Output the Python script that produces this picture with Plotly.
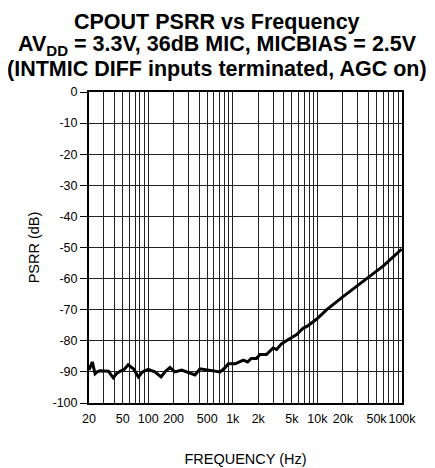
import numpy as np
import plotly.graph_objects as go

# CPOUT PSRR vs frequency
freq = [20, 21.9, 23.6, 25, 27, 30, 34, 38.7, 42, 46.5, 52, 58, 67, 76.6, 86,
        100, 120, 142, 160, 181, 208, 249, 286, 358, 410, 492, 600, 707, 800,
        887, 1065, 1277, 1333, 1500, 1650, 1900, 2100, 2500, 3000, 3300, 3790,
        4540, 5700, 6830, 7600, 9830, 12900, 20300, 34900, 60200, 99300]
psrr = [-89.4, -86.8, -90.6, -90.0, -89.6, -89.6, -89.8, -91.9, -90.6, -89.8,
        -89.2, -87.7, -89.0, -91.6, -90.0, -89.2, -90.0, -91.6, -89.8, -88.6,
        -90.0, -89.4, -90.0, -91.0, -89.0, -89.4, -89.6, -90.0, -88.8, -87.4,
        -87.4, -86.3, -86.2, -86.8, -85.7, -85.7, -84.4, -84.4, -82.3, -82.8,
        -80.9, -79.6, -78.0, -75.9, -75.3, -73.0, -70.0, -65.7, -60.9, -55.9,
        -50.5]

# grid positions: every integer multiple per decade, only some labelled
x_labels = {20: '20', 50: '50', 100: '100', 200: '200', 500: '500',
            1000: '1k', 2000: '2k', 5000: '5k', 10000: '10k', 20000: '20k',
            50000: '50k', 100000: '100k'}
x_grid = [m * 10 ** d for d in range(1, 5) for m in range(1, 10)] + [100000]
x_grid = [v for v in x_grid if v >= 20]
x_text = [x_labels.get(v, '') for v in x_grid]

y_ticks = list(range(0, -101, -10))
y_text = [str(v) for v in y_ticks]  # plain hyphen, not unicode minus

title_lines = ['CPOUT PSRR vs Frequency',
               'AV<sub>DD</sub> = 3.3V, 36dB MIC, MICBIAS = 2.5V',
               '(INTMIC DIFF inputs terminated, AGC on)']
title_y = [1.225, 1.148, 1.073]

font = 'Liberation Sans, Arial, sans-serif'

fig = go.Figure()
fig.add_trace(go.Scatter(x=freq, y=psrr, mode='lines',
                         line=dict(color='black', width=3)))

for txt, yy in zip(title_lines, title_y):
    fig.add_annotation(text='<b>' + txt + '</b>', xref='paper', yref='paper',
                       x=0.4105, y=yy, xanchor='center', yanchor='middle',
                       showarrow=False,
                       font=dict(size=21.5, family=font, color='black'))

# page body has an 8px margin, so the figure is 8px smaller than the window
fig.update_layout(
    width=427, height=460,
    margin=dict(l=81, r=33, t=84, b=65, autoexpand=False),
    paper_bgcolor='white', plot_bgcolor='white',
    showlegend=False,
    font=dict(family=font, color='black', size=12.5),
)

fig.update_xaxes(
    type='log', range=[np.log10(20), 5],
    tickmode='array', tickvals=x_grid, ticktext=x_text, tickangle=0,
    showgrid=True, gridcolor='#222', gridwidth=1,
    showline=True, linecolor='black', linewidth=2, mirror=True,
    ticks='outside', ticklen=3, tickcolor='rgba(0,0,0,0)',
    tickfont=dict(size=12.5),
    title=dict(text='FREQUENCY (Hz)', font=dict(size=14.5), standoff=29),
)
fig.update_yaxes(
    range=[-100, 0], tickmode='array', tickvals=y_ticks, ticktext=y_text,
    showgrid=True, gridcolor='#222', gridwidth=1, zeroline=False,
    showline=True, linecolor='black', linewidth=2, mirror=True,
    ticks='outside', ticklen=7, tickcolor='black', tickfont=dict(size=12.5),
    title=dict(text='PSRR (dB)', font=dict(size=14.5), standoff=9),
)

fig.write_html("out.html")
